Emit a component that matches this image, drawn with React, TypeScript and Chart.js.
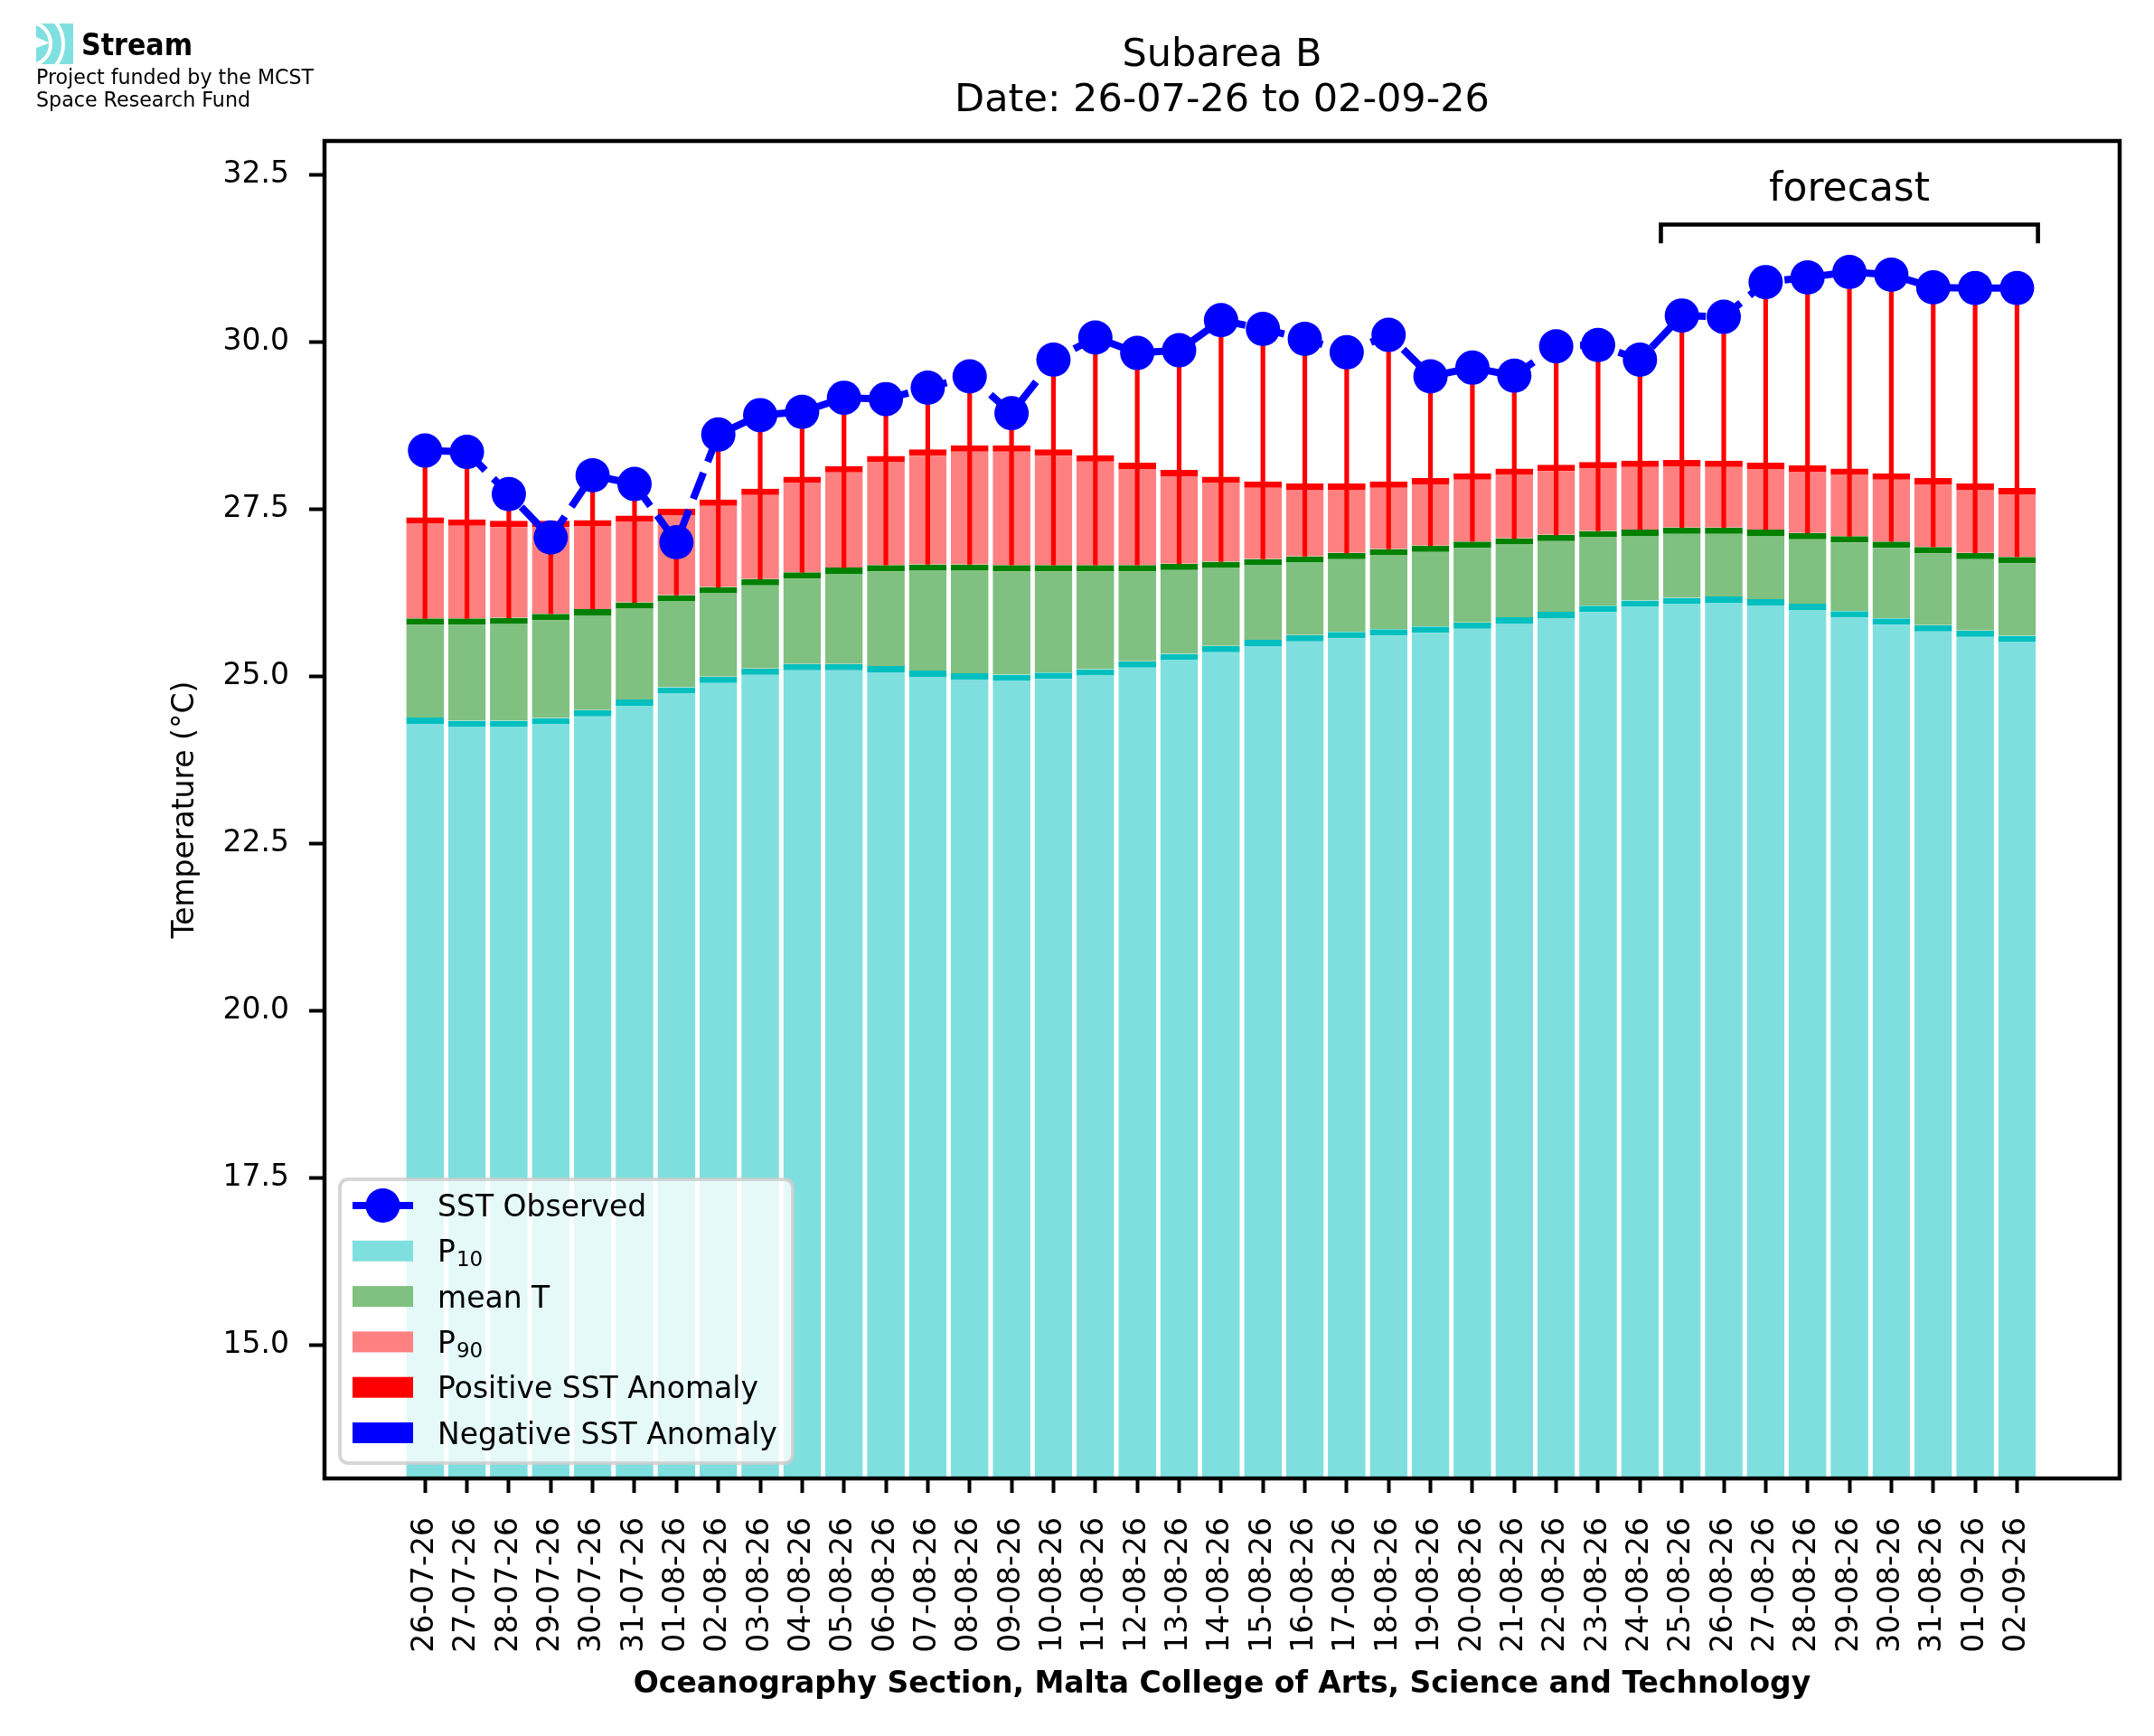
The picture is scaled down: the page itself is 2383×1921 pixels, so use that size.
import React, { useEffect, useRef } from "react";
import { Chart, registerables } from "chart.js";

Chart.register(...registerables);

const dates = [
  "26-07-26", "27-07-26", "28-07-26", "29-07-26", "30-07-26", "31-07-26",
  "01-08-26", "02-08-26", "03-08-26", "04-08-26", "05-08-26", "06-08-26",
  "07-08-26", "08-08-26", "09-08-26", "10-08-26", "11-08-26", "12-08-26",
  "13-08-26", "14-08-26", "15-08-26", "16-08-26", "17-08-26", "18-08-26",
  "19-08-26", "20-08-26", "21-08-26", "22-08-26", "23-08-26", "24-08-26",
  "25-08-26", "26-08-26", "27-08-26", "28-08-26", "29-08-26", "30-08-26",
  "31-08-26", "01-09-26", "02-09-26",
];

const sstObserved = [
  28.37, 28.35, 27.72, 27.07, 28.0, 27.87, 27.0, 28.61, 28.9, 28.95,
  29.16, 29.14, 29.31, 29.48, 28.93, 29.73, 30.06, 29.83, 29.87, 30.32,
  30.19, 30.04, 29.84, 30.1, 29.48, 29.61, 29.49, 29.93, 29.95, 29.73,
  30.39, 30.37, 30.89, 30.96, 31.04, 31.0, 30.81, 30.8, 30.8,
];

const p10 = [
  24.38, 24.33, 24.33, 24.37, 24.49, 24.65, 24.83, 24.99, 25.11, 25.18,
  25.18, 25.15, 25.08, 25.04, 25.02, 25.05, 25.1, 25.22, 25.33, 25.45,
  25.54, 25.61, 25.66, 25.7, 25.74, 25.8, 25.88, 25.96, 26.05, 26.13,
  26.17, 26.19, 26.15, 26.08, 25.97, 25.86, 25.76, 25.68, 25.6,
];

const meanT = [
  25.86, 25.86, 25.87, 25.93, 26.0, 26.1, 26.21, 26.33, 26.45, 26.55,
  26.62, 26.66, 26.67, 26.67, 26.66, 26.66, 26.66, 26.66, 26.68, 26.71,
  26.75, 26.79, 26.84, 26.9, 26.95, 27.01, 27.06, 27.11, 27.17, 27.19,
  27.22, 27.22, 27.19, 27.14, 27.09, 27.01, 26.93, 26.84, 26.78,
];

const p90 = [
  27.37, 27.34, 27.32, 27.32, 27.33, 27.4, 27.5, 27.64, 27.8, 27.98,
  28.14, 28.29, 28.39, 28.45, 28.45, 28.39, 28.3, 28.19, 28.08, 27.98,
  27.91, 27.88, 27.88, 27.91, 27.96, 28.03, 28.1, 28.16, 28.2, 28.22,
  28.23, 28.22, 28.19, 28.15, 28.1, 28.03, 27.96, 27.88, 27.81,
];

const yTicks = [15, 17.5, 20, 22.5, 25, 27.5, 30, 32.5];

const titleLines = ["Subarea B", "Date: 26-07-26 to 02-09-26"];
const xTitle = "Oceanography Section, Malta College of Arts, Science and Technology";
const yTitle = "Temperature (°C)";
const forecastLabel = "forecast";
const forecastFrom = 29.5;
const forecastTo = 38.5;

const W = 2383;
const H = 1921;
const FONT = '"DejaVu Sans", sans-serif';

const C_P10 = "#7fdfdf";
const C_P10_EDGE = "#00bfbf";
const C_MEAN = "#80c080";
const C_MEAN_EDGE = "#008000";
const C_P90 = "#ff8080";
const C_P90_EDGE = "#ff0000";
const C_POS = "#ff0000";
const C_NEG = "#0000ff";
const C_SST = "#0000ff";

function fitText(ctx: CanvasRenderingContext2D, text: string, x: number, y: number, width: number) {
  const m = ctx.measureText(text).width;
  ctx.save();
  ctx.translate(x, y);
  ctx.scale(width / m, 1);
  ctx.textAlign = "left";
  ctx.fillText(text, 0, 0);
  ctx.restore();
}

function roundRect(ctx: CanvasRenderingContext2D, x: number, y: number, w: number, h: number, r: number) {
  ctx.beginPath();
  ctx.moveTo(x + r, y);
  ctx.lineTo(x + w - r, y);
  ctx.arcTo(x + w, y, x + w, y + r, r);
  ctx.lineTo(x + w, y + h - r);
  ctx.arcTo(x + w, y + h, x + w - r, y + h, r);
  ctx.lineTo(x + r, y + h);
  ctx.arcTo(x, y + h, x, y + h - r, r);
  ctx.lineTo(x, y + r);
  ctx.arcTo(x, y, x + r, y, r);
  ctx.closePath();
}

const decorPlugin = {
  id: "decor",
  beforeDraw(chart: any) {
    const ctx: CanvasRenderingContext2D = chart.ctx;
    ctx.save();
    ctx.fillStyle = "#ffffff";
    ctx.fillRect(0, 0, chart.width, chart.height);
    ctx.restore();
  },
  afterDraw(chart: any) {
    const ctx: CanvasRenderingContext2D = chart.ctx;
    const a = chart.chartArea;
    const xs = chart.scales.x;
    const ys = chart.scales.y;
    const cx = (a.left + a.right) / 2;
    const cy = (a.top + a.bottom) / 2;

    ctx.save();
    // frame
    ctx.strokeStyle = "#000";
    ctx.lineWidth = 4.5;
    ctx.strokeRect(a.left, a.top, a.right - a.left, a.bottom - a.top);

    // forecast bracket
    const bx0 = xs.getPixelForValue(forecastFrom);
    const bx1 = xs.getPixelForValue(forecastTo);
    const by = ys.getPixelForValue(31.75);
    const byt = ys.getPixelForValue(31.47);
    ctx.lineWidth = 4.6;
    ctx.lineJoin = "miter";
    ctx.beginPath();
    ctx.moveTo(bx0, byt);
    ctx.lineTo(bx0, by);
    ctx.lineTo(bx1, by);
    ctx.lineTo(bx1, byt);
    ctx.stroke();
    ctx.fillStyle = "#000";
    ctx.font = `44px ${FONT}`;
    ctx.textAlign = "center";
    ctx.textBaseline = "alphabetic";
    ctx.fillText(forecastLabel, xs.getPixelForValue((forecastFrom + forecastTo) / 2), ys.getPixelForValue(32.11));

    // titles
    ctx.font = `43px ${FONT}`;
    ctx.fillText(titleLines[0], cx, 73);
    ctx.fillText(titleLines[1], cx, 123);

    // x title
    ctx.font = `bold 33px ${FONT}`;
    ctx.fillText(xTitle, cx, 1873);

    // y title
    ctx.save();
    ctx.translate(214, cy);
    ctx.rotate(-Math.PI / 2);
    ctx.font = `33px ${FONT}`;
    ctx.textAlign = "center";
    ctx.fillText(yTitle, 0, 0);
    ctx.restore();

    // logo
    ctx.save();
    ctx.beginPath();
    ctx.rect(40, 26, 41, 45);
    ctx.clip();
    ctx.fillStyle = "#80e0e0";
    ctx.fillRect(40, 26, 41, 45);
    ctx.strokeStyle = "#ffffff";
    ctx.lineWidth = 4;
    ctx.beginPath();
    ctx.arc(32, 48.5, 24, -Math.PI / 2, Math.PI / 2);
    ctx.stroke();
    ctx.beginPath();
    ctx.arc(32, 48.5, 38, -Math.PI / 2, Math.PI / 2);
    ctx.stroke();
    ctx.fillStyle = "#ffffff";
    ctx.beginPath();
    ctx.moveTo(40, 41);
    ctx.lineTo(55, 47.5);
    ctx.lineTo(40, 53);
    ctx.closePath();
    ctx.fill();
    ctx.restore();

    ctx.fillStyle = "#000";
    ctx.textAlign = "left";
    ctx.font = `bold 34px ${FONT}`;
    fitText(ctx, "Stream", 90, 61, 123);
    ctx.font = `23px ${FONT}`;
    fitText(ctx, "Project funded by the MCST", 40, 93, 307);
    fitText(ctx, "Space Research Fund", 40, 118, 237);

    // legend
    const lx = a.left + 17;
    const lw = 501;
    const lh = 314;
    const ly = a.bottom - 17 - lh;
    roundRect(ctx, lx, ly, lw, lh, 9);
    ctx.fillStyle = "rgba(255,255,255,0.8)";
    ctx.fill();
    ctx.strokeStyle = "rgba(204,204,204,0.8)";
    ctx.lineWidth = 4;
    ctx.stroke();

    const hx0 = lx + 14;
    const hx1 = hx0 + 67;
    const tx = lx + 108;
    const step = 50.3;
    const y0 = ly + 29;
    ctx.font = `33px ${FONT}`;
    ctx.textBaseline = "alphabetic";
    for (let k = 0; k < 6; k++) {
      const ey = y0 + k * step;
      if (k === 0) {
        ctx.strokeStyle = C_SST;
        ctx.lineWidth = 8;
        ctx.beginPath();
        ctx.moveTo(hx0, ey);
        ctx.lineTo(hx1, ey);
        ctx.stroke();
        ctx.fillStyle = C_SST;
        ctx.beginPath();
        ctx.arc((hx0 + hx1) / 2, ey, 19, 0, Math.PI * 2);
        ctx.fill();
      } else {
        const col = [C_P10, C_MEAN, C_P90, C_POS, C_NEG][k - 1];
        ctx.fillStyle = col;
        ctx.fillRect(hx0, ey - 11.5, hx1 - hx0, 23);
      }
    }
    ctx.fillStyle = "#000";
    const base = (k: number) => y0 + k * step + 12;
    ctx.fillText("SST Observed", tx, base(0));
    const sub = (lbl: string, num: string, k: number) => {
      ctx.font = `33px ${FONT}`;
      ctx.fillText(lbl, tx, base(k));
      const w = ctx.measureText(lbl).width;
      ctx.font = `23px ${FONT}`;
      ctx.fillText(num, tx + w + 1, base(k) + 5);
      ctx.font = `33px ${FONT}`;
    };
    sub("P", "10", 1);
    ctx.fillText("mean T", tx, base(2));
    sub("P", "90", 3);
    ctx.fillText("Positive SST Anomaly", tx, base(4));
    ctx.fillText("Negative SST Anomaly", tx, base(5));
    ctx.restore();
  },
};

export default function App() {
  const ref = useRef<HTMLCanvasElement | null>(null);

  useEffect(() => {
    if (!ref.current) return;
    const idx = dates.map((_, i) => i);
    const barCommon = {
      grouped: false,
      barPercentage: 0.9,
      categoryPercentage: 1,
      borderSkipped: false,
      borderWidth: { top: 7, right: 0, bottom: 0, left: 0 },
    };
    const chart = new Chart(ref.current, {
      type: "bar",
      data: {
        datasets: [
          {
            type: "line",
            label: "SST Observed",
            data: idx.map((i) => ({ x: i, y: sstObserved[i] })),
            borderColor: C_SST,
            backgroundColor: C_SST,
            borderWidth: 8,
            borderDash: [31, 13],
            pointRadius: 19,
            pointHoverRadius: 19,
            pointBorderWidth: 0,
            pointBackgroundColor: C_SST,
            tension: 0,
            order: 0,
          } as any,
          {
            label: "SST Anomaly",
            data: idx.map((i) => ({ x: i, y: [meanT[i], sstObserved[i]] })),
            backgroundColor: idx.map((i) => (sstObserved[i] >= meanT[i] ? C_POS : C_NEG)),
            barThickness: 4.5,
            grouped: false,
            borderWidth: 0,
            order: 1,
          } as any,
          {
            label: "P90",
            data: idx.map((i) => ({ x: i, y: [meanT[i], p90[i]] })),
            backgroundColor: C_P90,
            borderColor: C_P90_EDGE,
            ...barCommon,
            order: 2,
          } as any,
          {
            label: "mean T",
            data: idx.map((i) => ({ x: i, y: [p10[i], meanT[i]] })),
            backgroundColor: C_MEAN,
            borderColor: C_MEAN_EDGE,
            ...barCommon,
            order: 3,
          } as any,
          {
            label: "P10",
            data: idx.map((i) => ({ x: i, y: [0, p10[i]] })),
            backgroundColor: C_P10,
            borderColor: C_P10_EDGE,
            ...barCommon,
            order: 4,
          } as any,
        ],
      },
      options: {
        responsive: false,
        animation: false,
        devicePixelRatio: 1,
        events: [],
        layout: { padding: { top: 156, right: 38, left: 0, bottom: 0 } },
        plugins: {
          legend: { display: false },
          tooltip: { enabled: false },
          title: { display: false },
        },
        scales: {
          x: {
            type: "linear",
            min: -2.4,
            max: 40.45,
            offset: false,
            border: { display: false },
            grid: {
              display: true,
              drawOnChartArea: false,
              drawTicks: true,
              tickLength: 16,
              tickWidth: 4,
              tickColor: "#000",
              offset: false,
            },
            ticks: {
              autoSkip: false,
              maxRotation: 90,
              minRotation: 90,
              padding: 27,
              color: "#000",
              font: { family: FONT, size: 33 },
              callback: (v: any) => dates[Number(v)] ?? "",
            },
            afterBuildTicks: (s: any) => {
              s.ticks = dates.map((_, i) => ({ value: i }));
            },
            afterFit: (s: any) => {
              s.height = H - 1636;
            },
          },
          y: {
            type: "linear",
            min: 13,
            max: 33,
            border: { display: false },
            grid: {
              display: true,
              drawOnChartArea: false,
              drawTicks: true,
              tickLength: 17,
              tickWidth: 4,
              tickColor: "#000",
            },
            ticks: {
              padding: 22,
              color: "#000",
              font: { family: FONT, size: 33 },
              callback: (v: any) => Number(v).toFixed(1),
            },
            afterBuildTicks: (s: any) => {
              s.ticks = yTicks.map((v) => ({ value: v }));
            },
            afterFit: (s: any) => {
              s.width = 359;
            },
          },
        },
      } as any,
      plugins: [decorPlugin as any],
    });
    return () => chart.destroy();
  }, []);

  return (
    <div style={{ position: "absolute", left: 0, top: 0, width: W, height: H, background: "#fff" }}>
      <canvas ref={ref} width={W} height={H} style={{ width: W, height: H, display: "block" }} />
    </div>
  );
}
